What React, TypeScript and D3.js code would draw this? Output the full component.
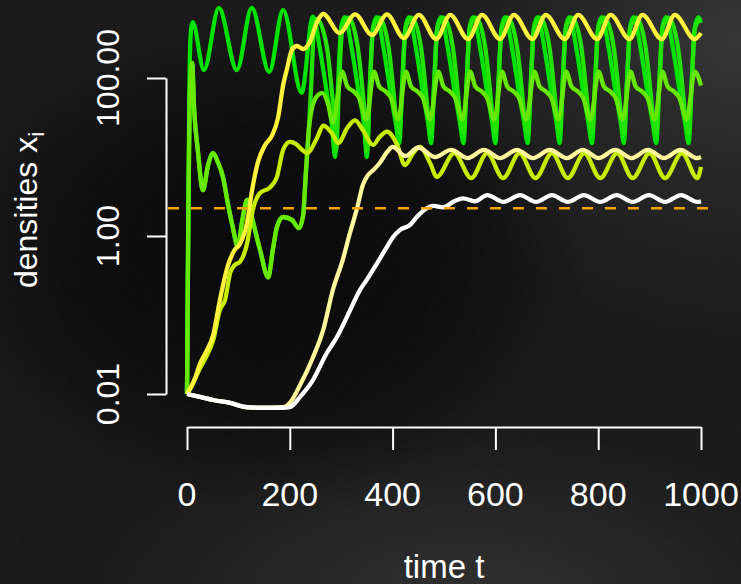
import React, { useEffect, useRef } from 'react';
import * as d3 from 'd3';

type Pt = [number, number];

// axis ticks
const xTicks = [0, 200, 400, 600, 800, 1000];
const yTicks = [0.01, 1, 100];
const yTickLabels = ['0.01', '1.00', '100.00'];
const threshold = 2.25;

// densities x_i over time t
const green1: Pt[] = [
  [0, 0.01], [2, 0.8], [5, 120], [8, 420], [11, 510], [33, 126], [62, 770], [97, 126], [126, 770],
  [160, 119], [187, 726], [223, 65], [245, 600], [259, 226], [272, 65], [282, 25],
  [288, 10], [294, 86], [300, 440], [307, 590], [321, 226], [334, 65], [344, 27],
  [350, 10], [356, 86], [362, 440], [369, 590], [383, 226], [396, 65], [406, 27],
  [413, 15], [419, 86], [425, 440], [432, 590], [446, 226], [459, 65], [469, 27],
  [475, 15], [481, 86], [487, 440], [494, 590], [508, 226], [521, 65], [531, 27],
  [538, 15], [544, 86], [550, 440], [557, 590], [571, 226], [584, 65], [594, 27],
  [600, 15], [606, 86], [612, 440], [619, 590], [633, 226], [646, 65], [656, 27],
  [663, 15], [669, 86], [675, 440], [682, 590], [696, 226], [709, 65], [719, 27],
  [725, 15], [731, 86], [737, 440], [744, 590], [758, 226], [771, 65], [781, 27],
  [788, 15], [794, 86], [800, 440], [807, 590], [821, 226], [834, 65], [844, 27],
  [850, 15], [856, 86], [862, 440], [869, 590], [883, 226], [896, 65], [906, 27],
  [913, 15], [919, 86], [925, 440], [932, 590], [946, 226], [959, 65], [969, 27],
  [976, 15], [982, 86], [988, 440], [995, 590], [1000, 500],
];

const green2: Pt[] = [
  [0, 0.01], [2, 0.5], [5, 50], [10, 155], [14, 39], [21, 12.3], [31, 3.8], [41, 7.9], [51, 11.2],
  [60, 8.6], [70, 5.6], [80, 2.47], [89, 1.3], [99, 0.73], [107, 1.5], [117, 2.86], [126, 1.74],
  [142, 0.67], [158, 0.3], [167, 0.67], [175, 1.3], [187, 1.74], [204, 1.6], [218, 1.26], [226, 1.84],
  [231, 5.9], [237, 22], [242, 90], [246, 330], [252, 560], [272, 250], [282, 65], [287, 30],
  [290, 12], [296, 90], [302, 420], [314, 580], [332, 250], [342, 65], [347, 28],
  [350, 12], [356, 90], [362, 420], [374, 580], [392, 250], [402, 65], [407, 30],
  [413, 20], [419, 90], [425, 420], [437, 580], [455, 250], [465, 65], [470, 30],
  [475, 20], [481, 90], [487, 420], [499, 580], [517, 250], [527, 65], [532, 30],
  [538, 20], [544, 90], [550, 420], [562, 580], [580, 250], [590, 65], [595, 30],
  [600, 20], [606, 90], [612, 420], [624, 580], [642, 250], [652, 65], [657, 30],
  [663, 20], [669, 90], [675, 420], [687, 580], [705, 250], [715, 65], [720, 30],
  [725, 20], [731, 90], [737, 420], [749, 580], [767, 250], [777, 65], [782, 30],
  [788, 20], [794, 90], [800, 420], [812, 580], [830, 250], [840, 65], [845, 30],
  [850, 20], [856, 90], [862, 420], [874, 580], [892, 250], [902, 65], [907, 30],
  [913, 20], [919, 90], [925, 420], [937, 580], [955, 250], [965, 65], [970, 30],
  [976, 20], [982, 90], [988, 420], [1000, 580],
];

const lime: Pt[] = [
  [0, 0.01], [2, 0.5], [5, 50], [10, 155], [14, 39], [21, 12.3], [31, 3.8], [41, 7.9], [51, 11.2],
  [60, 8.6], [70, 5.6], [80, 2.47], [89, 1.3], [99, 0.73], [107, 1.5], [117, 2.86], [126, 1.74],
  [142, 0.67], [158, 0.3], [167, 0.67], [175, 1.3], [187, 1.74], [204, 1.6], [218, 1.26], [226, 1.84],
  [231, 5.9], [237, 22], [245, 46], [255, 61], [263, 65], [274, 48], [284, 27],
  [302, 120], [312, 78], [325, 67], [335, 56], [349, 30],
  [364, 120], [374, 78], [387, 67], [397, 56], [411, 30],
  [426, 120], [436, 78], [449, 67], [459, 56], [473, 30],
  [489, 120], [499, 78], [512, 67], [522, 56], [536, 30],
  [551, 120], [561, 78], [574, 67], [584, 56], [598, 30],
  [613, 120], [623, 78], [636, 67], [646, 56], [660, 30],
  [676, 120], [686, 78], [699, 67], [709, 56], [723, 30],
  [738, 120], [748, 78], [761, 67], [771, 56], [785, 30],
  [801, 120], [811, 78], [824, 67], [834, 56], [848, 30],
  [863, 120], [873, 78], [886, 67], [896, 56], [910, 30],
  [925, 120], [935, 78], [948, 67], [958, 56], [972, 30],
  [988, 120], [1000, 80],
];

const yellowGreen: Pt[] = [
  [0, 0.01], [10, 0.013], [25, 0.021], [39, 0.031], [51, 0.048], [64, 0.116], [74, 0.155], [84, 0.34],
  [93, 0.43], [103, 0.47], [117, 0.81], [128, 2.13], [142, 3.5], [161, 4.1], [175, 5.6], [187, 12.3],
  [200, 15.5], [212, 14.6], [224, 12.3], [233, 11.2], [253, 17.4], [265, 25], [282, 20], [294, 15],
  [313, 24], [327, 29], [342, 22], [362, 14.2], [375, 18], [389, 21], [409, 14.2], [424, 7.9],
  [440, 11.2], [453, 13.4], [473, 8.4], [486, 5.6], [520, 11.2], [553, 5.4], [584, 11.2], [615, 5.4],
  [647, 11.2], [678, 5.4], [710, 11.2], [741, 5.4], [773, 11.2], [804, 5.4], [837, 11.2], [867, 5.4],
  [900, 11.2], [930, 5.4], [963, 11.2], [993, 5.4], [1000, 7.5],
];

const yellow: Pt[] = [
  [0, 0.01], [10, 0.013], [16, 0.016], [25, 0.024], [37, 0.034], [51, 0.056], [64, 0.155], [80, 0.43],
  [93, 0.67], [103, 0.79], [117, 1.5], [126, 3.6], [138, 8.6], [152, 14.2], [165, 18.5], [177, 31],
  [187, 81], [195, 134], [204, 226], [214, 254], [226, 233], [239, 286], [253, 512], [265, 646],
  [297, 371], [327, 640], [360, 350], [389, 640], [422, 320], [451, 630], [485, 310], [512, 630],
  [547, 310], [574, 630], [609, 310], [636, 630], [672, 310], [698, 630], [735, 310], [761, 630],
  [798, 310], [824, 630], [861, 310], [886, 630], [924, 310], [949, 630], [988, 310], [1000, 370],
];

const paleYellow: Pt[] = [
  [0, 0.01], [25, 0.0092], [51, 0.0084], [84, 0.0077], [117, 0.0068], [148, 0.0067], [187, 0.0068],
  [200, 0.0077], [220, 0.013], [245, 0.029], [265, 0.065], [284, 0.21], [303, 0.5], [317, 1.09],
  [331, 2.26], [342, 4.4], [352, 5.9], [362, 6.8], [375, 8.4], [389, 11.5], [400, 13.4], [425, 10.3],
  [450, 13.2], [482, 10], [514, 12.3], [546, 9.7], [578, 12.3], [609, 9.7], [642, 12.3], [673, 9.7],
  [706, 12.3], [739, 9.7], [770, 12.3], [801, 9.7], [833, 12.3], [865, 9.7], [897, 12.3], [928, 9.7],
  [960, 12.3], [992, 9.7], [1000, 10],
];

const white: Pt[] = [
  [0, 0.01], [25, 0.0092], [51, 0.0084], [84, 0.0077], [117, 0.0068], [148, 0.0067], [187, 0.0067],
  [200, 0.0068], [220, 0.0092], [245, 0.015], [272, 0.033], [292, 0.053], [311, 0.094], [337, 0.21],
  [350, 0.28], [370, 0.455], [389, 0.73], [401, 0.97], [414, 1.19], [434, 1.38], [447, 1.74],
  [467, 2.26], [480, 2.4], [498, 2.3], [520, 2.75], [537, 3.0], [560, 2.75], [584, 3.3], [616, 2.7],
  [648, 3.3], [679, 2.7], [710, 3.3], [741, 2.7], [772, 3.3], [804, 2.7], [836, 3.3], [867, 2.7],
  [899, 3.3], [930, 2.7], [961, 3.3], [993, 2.7], [1000, 2.75],
];

const seriesList = [green1, green2, lime, yellowGreen, yellow, paleYellow, white];
const seriesColors = ['#00e300', '#22e400', '#66e800', '#c6ec00', '#fff23c', '#fff79c', '#ffffff'];

const W = 741;
const H = 584;
const FONT = '"Liberation Sans", Arial, Helvetica, sans-serif';

const App: React.FC = () => {
  const svgRef = useRef<SVGSVGElement>(null);

  useEffect(() => {
    if (!svgRef.current) return;
    const svg = d3.select(svgRef.current);
    svg.selectAll('*').remove();

    // chalkboard background
    const defs = svg.append('defs');
    const glow = (id: string, stops: [number, string, number][]) => {
      const g = defs.append('radialGradient').attr('id', id);
      stops.forEach(([o, c, a]) => g.append('stop').attr('offset', o).attr('stop-color', c).attr('stop-opacity', a));
    };
    glow('tr', [[0, '#363636', 0.85], [0.5, '#2a2a2a', 0.5], [1, '#2a2a2a', 0]]);
    glow('bt', [[0, '#303030', 0.8], [1, '#303030', 0]]);
    glow('dk', [[0, '#000', 0.9], [0.6, '#000', 0.6], [1, '#000', 0]]);

    const grain = defs.append('filter').attr('id', 'grain');
    grain.append('feTurbulence').attr('type', 'fractalNoise').attr('baseFrequency', 0.9).attr('numOctaves', 2).attr('seed', 3);
    grain.append('feColorMatrix').attr('values', '0 0 0 0 1  0 0 0 0 1  0 0 0 0 1  0 0 0 0.06 0');

    svg.append('rect').attr('width', W).attr('height', H).attr('fill', '#141414');
    svg.append('ellipse').attr('cx', 740).attr('cy', 40).attr('rx', 330).attr('ry', 300).attr('fill', 'url(#tr)');
    svg.append('ellipse').attr('cx', 470).attr('cy', 600).attr('rx', 380).attr('ry', 170).attr('fill', 'url(#bt)');
    svg.append('ellipse').attr('cx', 260).attr('cy', 260).attr('rx', 330).attr('ry', 250).attr('fill', 'url(#dk)');
    svg.append('rect').attr('width', W).attr('height', H).attr('filter', 'url(#grain)');

    const x = d3.scaleLinear().domain([0, 1000]).range([187, 701]);
    const y = d3.scaleLog().domain([0.01, 100]).range([394, 78]);

    // axes
    const xAxis = svg.append('g')
      .attr('transform', 'translate(0,427)')
      .call(d3.axisBottom(x).tickValues(xTicks).tickSize(23).tickSizeOuter(0).tickFormat(() => ''));
    const yAxis = svg.append('g')
      .attr('transform', 'translate(166,0)')
      .call(d3.axisLeft(y).tickValues(yTicks).tickSize(19).tickSizeOuter(0).tickFormat(() => ''));
    [xAxis, yAxis].forEach(a => {
      a.selectAll('path, line').attr('stroke', '#fff').attr('stroke-width', 2);
    });

    svg.append('g').selectAll('text')
      .data(xTicks)
      .join('text')
      .attr('x', d => x(d))
      .attr('y', 506)
      .attr('text-anchor', 'middle')
      .attr('fill', '#fff')
      .style('font-family', FONT)
      .style('font-size', '34px')
      .text(d => String(d));

    svg.append('g').selectAll('text')
      .data(yTicks)
      .join('text')
      .attr('transform', d => `translate(119,${y(d)}) rotate(-90)`)
      .attr('text-anchor', 'middle')
      .attr('fill', '#fff')
      .style('font-family', FONT)
      .style('font-size', '32px')
      .text((_, i) => yTickLabels[i]);

    svg.append('text')
      .attr('x', 444)
      .attr('y', 578)
      .attr('text-anchor', 'middle')
      .attr('fill', '#fff')
      .style('font-family', FONT)
      .style('font-size', '33px')
      .text('time t');

    const yLab = svg.append('text')
      .attr('transform', 'translate(37,210) rotate(-90)')
      .attr('text-anchor', 'middle')
      .attr('fill', '#fff')
      .style('font-family', FONT)
      .style('font-size', '32px');
    yLab.append('tspan').text('densities x');
    yLab.append('tspan').attr('dy', 7).style('font-size', '22px').text('i');

    // trajectories
    const line = d3.line<Pt>()
      .x(d => x(d[0]))
      .y(d => y(d[1]))
      .curve(d3.curveMonotoneX);

    svg.append('g').selectAll('path')
      .data(seriesList)
      .join('path')
      .attr('d', d => line(d))
      .attr('fill', 'none')
      .attr('stroke', (_, i) => seriesColors[i])
      .attr('stroke-width', 4.3)
      .attr('stroke-linejoin', 'round');

    // threshold
    svg.append('line')
      .attr('x1', x(-37)).attr('x2', x(1030))
      .attr('y1', y(threshold)).attr('y2', y(threshold))
      .attr('stroke', '#f5a300')
      .attr('stroke-width', 2.5)
      .attr('stroke-dasharray', '11,12');
  }, []);

  return <svg ref={svgRef} width={W} height={H} style={{ position: 'absolute', left: 0, top: 0, display: 'block' }} />;
};

export default App;
